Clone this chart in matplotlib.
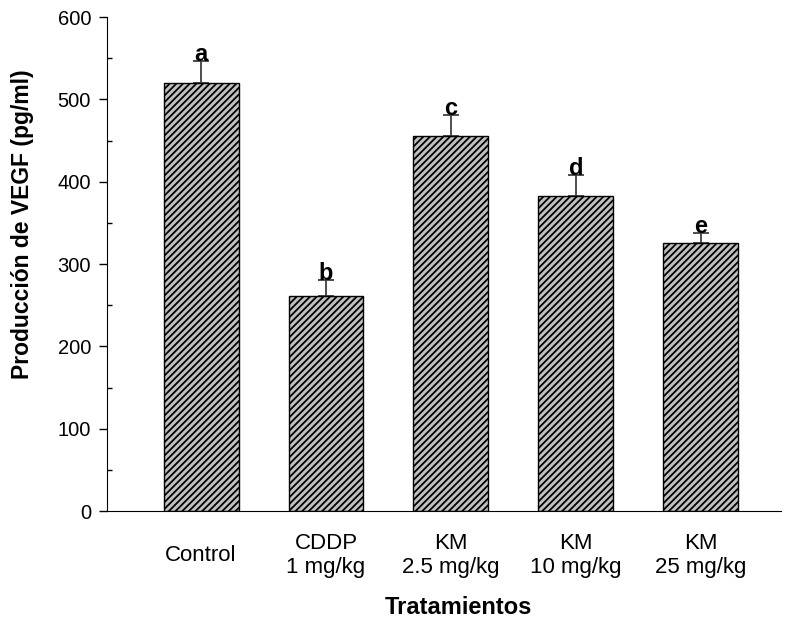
import matplotlib
matplotlib.use("Agg")
import matplotlib.pyplot as plt
from matplotlib.ticker import MultipleLocator

plt.rcParams["font.family"] = ["Liberation Sans", "DejaVu Sans"]
plt.rcParams["hatch.linewidth"] = 1.3

categories = ["Control", "CDDP\n1 mg/kg", "KM\n2.5 mg/kg", "KM\n10 mg/kg", "KM\n25 mg/kg"]
values = [520, 261, 455, 382, 326]
errors = [27, 20, 26, 26, 12]
letters = ["a", "b", "c", "d", "e"]

fig = plt.figure(figsize=(7.91, 6.28), dpi=100)
ax = fig.add_axes([0.1353, 0.1863, 0.852, 0.7866])

x = list(range(len(categories)))
ax.bar(x, values, width=0.6, color="#c0c0c0", edgecolor="black", linewidth=1.0,
       hatch="/////", zorder=2)
ax.errorbar(x, values, yerr=[[0] * len(errors), errors], fmt="none", ecolor="#404040",
            elinewidth=1.3, capsize=5.5, capthick=1.3, zorder=1)

for xi, v, e, lab in zip(x, values, errors, letters):
    ax.text(xi, v + e, lab, ha="center", va="baseline", fontsize=17, fontweight="bold")

ax.set_xlim(-0.752, 4.64)
ax.set_ylim(0, 600)
ax.yaxis.set_major_locator(MultipleLocator(100))
ax.yaxis.set_minor_locator(MultipleLocator(50))
ax.tick_params(axis="y", which="major", direction="out", length=6, width=1, pad=5.5, labelsize=14.5)
ax.tick_params(axis="y", which="minor", direction="in", length=3.5, width=1)
ax.set_xticks(x)
ax.set_xticklabels(categories, fontsize=16, va="center", linespacing=1.15)
ax.tick_params(axis="x", length=0, pad=32)

ax.spines["top"].set_visible(False)
ax.spines["right"].set_visible(False)

ax.set_ylabel("Producción de VEGF (pg/ml)", fontsize=16.5, fontweight="bold",
              va="center", ha="center")
ax.yaxis.set_label_coords(-0.126, 0.581)
ax.set_xlabel("Tratamientos", fontsize=17, fontweight="bold", va="center", ha="center")
ax.xaxis.set_label_coords(0.521, -0.195)

fig.savefig("out.png", dpi=100)
